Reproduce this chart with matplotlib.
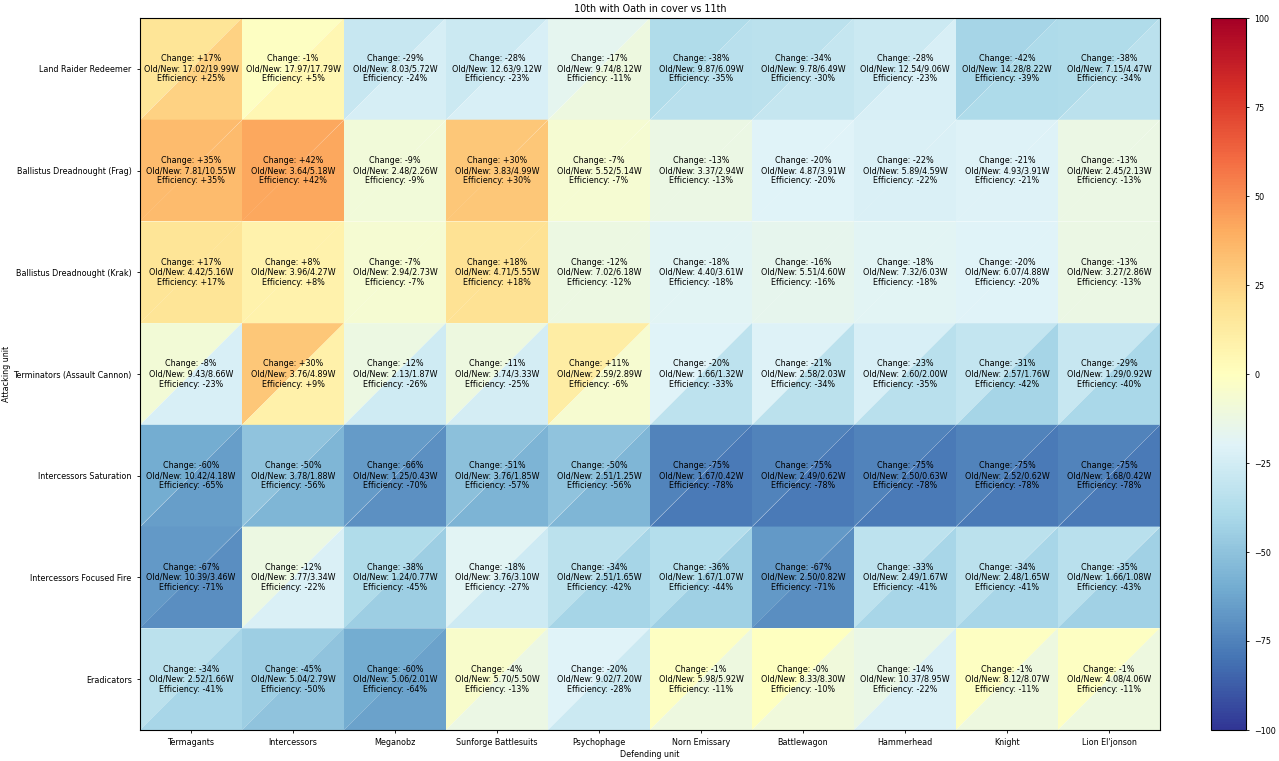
import numpy as np
import matplotlib
matplotlib.use("Agg")
import matplotlib.pyplot as plt
from matplotlib.patches import Polygon
from matplotlib.colors import Normalize
from matplotlib.cm import ScalarMappable

attackers = ["Land Raider Redeemer", "Ballistus Dreadnought (Frag)", "Ballistus Dreadnought (Krak)",
             "Terminators (Assault Cannon)", "Intercessors Saturation", "Intercessors Focused Fire",
             "Eradicators"]
defenders = ["Termagants", "Intercessors", "Meganobz", "Sunforge Battlesuits", "Psychophage",
             "Norn Emissary", "Battlewagon", "Hammerhead", "Knight", "Lion El'jonson"]

old_w = [
    [17.02, 17.97, 8.03, 12.63, 9.74, 9.87, 9.78, 12.54, 14.28, 7.15],
    [7.81, 3.64, 2.48, 3.83, 5.52, 3.37, 4.87, 5.89, 4.93, 2.45],
    [4.42, 3.96, 2.94, 4.71, 7.02, 4.40, 5.51, 7.32, 6.07, 3.27],
    [9.43, 3.76, 2.13, 3.74, 2.59, 1.66, 2.58, 2.60, 2.57, 1.29],
    [10.42, 3.78, 1.25, 3.76, 2.51, 1.67, 2.49, 2.50, 2.52, 1.68],
    [10.39, 3.77, 1.24, 3.76, 2.51, 1.67, 2.50, 2.49, 2.48, 1.66],
    [2.52, 5.04, 5.06, 5.70, 9.02, 5.98, 8.33, 10.37, 8.12, 4.08],
]
new_w = [
    [19.99, 17.79, 5.72, 9.12, 8.12, 6.09, 6.49, 9.06, 8.22, 4.47],
    [10.55, 5.18, 2.26, 4.99, 5.14, 2.94, 3.91, 4.59, 3.91, 2.13],
    [5.16, 4.27, 2.73, 5.55, 6.18, 3.61, 4.60, 6.03, 4.88, 2.86],
    [8.66, 4.89, 1.87, 3.33, 2.89, 1.32, 2.03, 2.00, 1.76, 0.92],
    [4.18, 1.88, 0.43, 1.85, 1.25, 0.42, 0.62, 0.63, 0.62, 0.42],
    [3.46, 3.34, 0.77, 3.10, 1.65, 1.07, 0.82, 1.67, 1.65, 1.08],
    [1.66, 2.79, 2.01, 5.50, 7.20, 5.92, 8.30, 8.95, 8.07, 4.06],
]
change = [
    [17, -1, -29, -28, -17, -38, -34, -28, -42, -38],
    [35, 42, -9, 30, -7, -13, -20, -22, -21, -13],
    [17, 8, -7, 18, -12, -18, -16, -18, -20, -13],
    [-8, 30, -12, -11, 11, -20, -21, -23, -31, -29],
    [-60, -50, -66, -51, -50, -75, -75, -75, -75, -75],
    [-67, -12, -38, -18, -34, -36, -67, -33, -34, -35],
    [-34, -45, -60, -4, -20, -1, -0.4, -14, -1, -1],
]
efficiency = [
    [25, 5, -24, -23, -11, -35, -30, -23, -39, -34],
    [35, 42, -9, 30, -7, -13, -20, -22, -21, -13],
    [17, 8, -7, 18, -12, -18, -16, -18, -20, -13],
    [-23, 9, -26, -25, -6, -33, -34, -35, -42, -40],
    [-65, -56, -70, -57, -56, -78, -78, -78, -78, -78],
    [-71, -22, -45, -27, -42, -44, -71, -41, -41, -43],
    [-41, -50, -64, -13, -28, -11, -10, -22, -11, -11],
]

plt.rcParams["font.size"] = 5.75

fig = plt.figure(figsize=(12.79, 7.61), dpi=100)
ax = fig.add_axes([140 / 1279, 31 / 761, 1020 / 1279, 712 / 761])
cax = fig.add_axes([1211 / 1279, 31 / 761, 35 / 1279, 712 / 761])

cmap = plt.get_cmap("RdYlBu_r")
norm = Normalize(vmin=-100, vmax=100)

for i in range(len(attackers)):
    for j in range(len(defenders)):
        # upper-left triangle: change, lower-right: efficiency
        up = Polygon([(j, i), (j + 1, i), (j, i + 1)], closed=True,
                     facecolor=cmap(norm(change[i][j])), edgecolor="none")
        lo = Polygon([(j + 1, i), (j + 1, i + 1), (j, i + 1)], closed=True,
                     facecolor=cmap(norm(efficiency[i][j])), edgecolor="none")
        ax.add_patch(up)
        ax.add_patch(lo)
        txt = "Change: {:+.0f}%\nOld/New: {:.2f}/{:.2f}W\nEfficiency: {:+.0f}%".format(
            change[i][j], old_w[i][j], new_w[i][j], efficiency[i][j])
        ax.text(j + 0.5, i + 0.5, txt, ha="center", va="center", fontsize=5.75,
                color="black", linespacing=1.15)

ax.set_xlim(0, len(defenders))
ax.set_ylim(len(attackers), 0)
ax.set_xticks(np.arange(len(defenders)) + 0.5)
ax.set_xticklabels(defenders)
ax.set_yticks(np.arange(len(attackers)) + 0.5)
ax.set_yticklabels(attackers)
ax.tick_params(length=2.5, width=0.6)
ax.set_xlabel("Defending unit", labelpad=2)
ax.set_ylabel("Attacking unit", labelpad=2)
ax.set_title("10th with Oath in cover vs 11th", fontsize=6.9, pad=4)

sm = ScalarMappable(norm=norm, cmap=cmap)
cb = fig.colorbar(sm, cax=cax)
cb.ax.tick_params(length=2.5, width=0.6)

fig.savefig("out.png", dpi=100)
